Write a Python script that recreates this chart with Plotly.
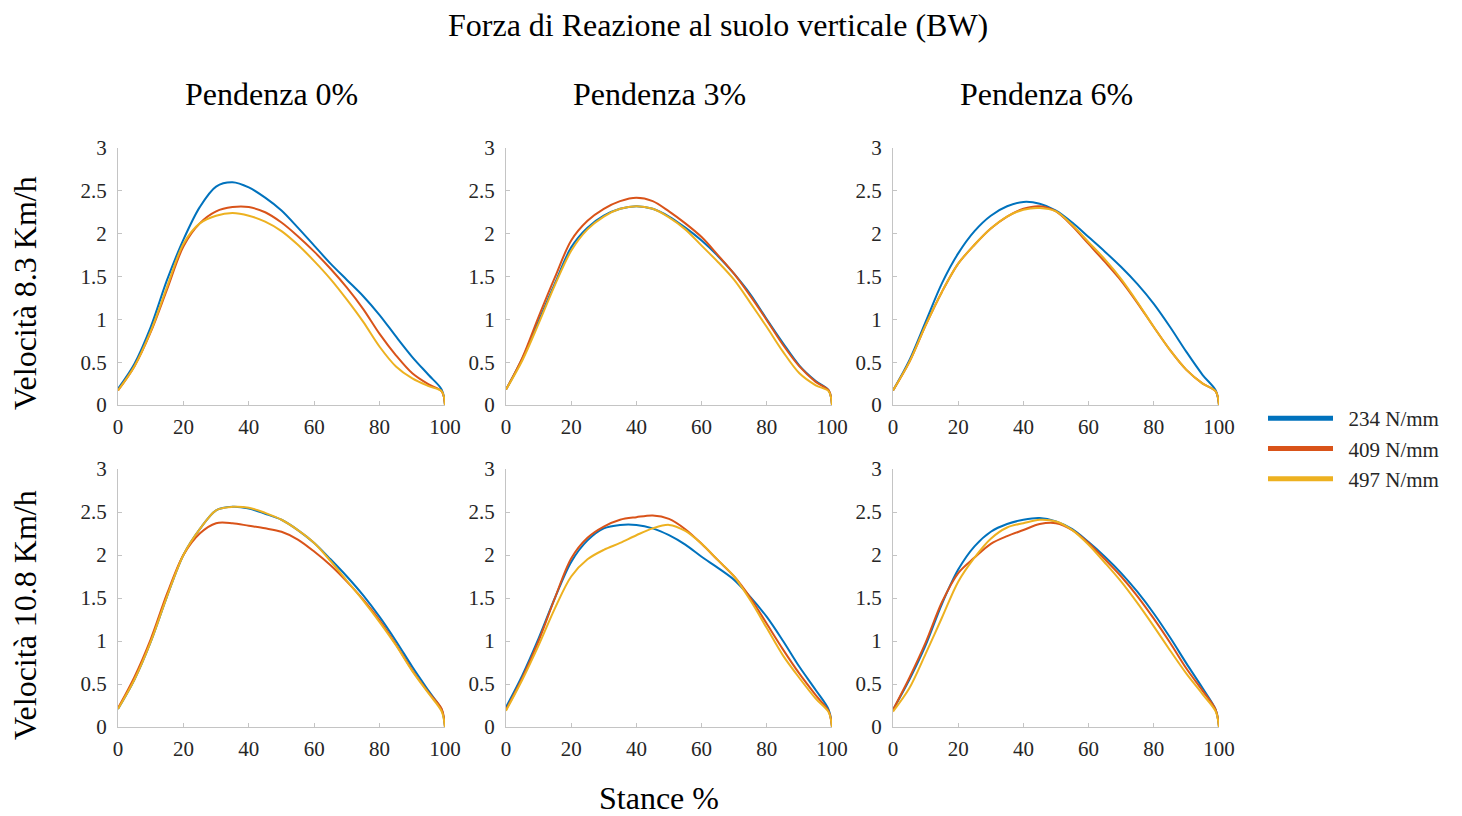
"""
Vertical ground reaction force (BW) over stance, 2x3 grid:
columns = treadmill slope, rows = running speed, one line per stiffness.
"""
import plotly.graph_objects as go

STANCE = [0, 5, 10, 15, 20, 25, 30, 35, 40, 45, 50,
          55, 60, 65, 70, 75, 80, 85, 90, 95, 99, 100]

SLOPES = ["Pendenza 0%", "Pendenza 3%", "Pendenza 6%"]
SPEEDS = ["Velocità 8.3 Km/h", "Velocità 10.8 Km/h"]
STIFFNESS = ["234 N/mm", "409 N/mm", "497 N/mm"]

# speed 8.3 km/h
V83_P0_234 = [0.19, 0.48, 0.91, 1.46, 1.93, 2.31, 2.55, 2.60, 2.54, 2.42, 2.27,
              2.07, 1.86, 1.65, 1.46, 1.27, 1.05, 0.80, 0.56, 0.35, 0.18, 0]
V83_P0_409 = [0.17, 0.45, 0.85, 1.35, 1.85, 2.12, 2.26, 2.31, 2.31, 2.25, 2.13,
              1.97, 1.79, 1.59, 1.37, 1.12, 0.83, 0.58, 0.37, 0.24, 0.16, 0]
V83_P0_497 = [0.17, 0.45, 0.86, 1.38, 1.88, 2.12, 2.21, 2.24, 2.21, 2.14, 2.03,
              1.87, 1.68, 1.47, 1.23, 0.97, 0.68, 0.45, 0.31, 0.22, 0.16, 0]

V83_P3_234 = [0.18, 0.54, 0.98, 1.42, 1.84, 2.07, 2.21, 2.29, 2.32, 2.29, 2.20,
              2.07, 1.92, 1.74, 1.53, 1.29, 1.00, 0.72, 0.46, 0.28, 0.17, 0]
V83_P3_409 = [0.18, 0.55, 1.03, 1.49, 1.92, 2.15, 2.29, 2.38, 2.42, 2.38, 2.26,
              2.12, 1.96, 1.75, 1.53, 1.27, 0.99, 0.70, 0.45, 0.27, 0.17, 0]
V83_P3_497 = [0.18, 0.52, 0.95, 1.40, 1.80, 2.05, 2.20, 2.29, 2.32, 2.29, 2.19,
              2.05, 1.86, 1.67, 1.46, 1.19, 0.91, 0.62, 0.37, 0.23, 0.16, 0]

V83_P6_234 = [0.17, 0.52, 0.97, 1.42, 1.77, 2.03, 2.21, 2.32, 2.37, 2.35, 2.27,
              2.13, 1.96, 1.79, 1.61, 1.41, 1.18, 0.91, 0.62, 0.35, 0.17, 0]
V83_P6_409 = [0.17, 0.50, 0.93, 1.32, 1.65, 1.87, 2.06, 2.20, 2.29, 2.32, 2.26,
              2.09, 1.88, 1.67, 1.45, 1.19, 0.91, 0.64, 0.41, 0.25, 0.16, 0]
V83_P6_497 = [0.17, 0.50, 0.93, 1.32, 1.65, 1.87, 2.06, 2.20, 2.28, 2.30, 2.26,
              2.10, 1.90, 1.70, 1.47, 1.20, 0.91, 0.64, 0.41, 0.25, 0.16, 0]

# speed 10.8 km/h
V108_P0_234 = [0.21, 0.55, 0.99, 1.52, 2.00, 2.30, 2.52, 2.56, 2.54, 2.48, 2.41,
               2.29, 2.14, 1.95, 1.75, 1.53, 1.28, 1.00, 0.70, 0.42, 0.20, 0]
V108_P0_409 = [0.22, 0.58, 1.02, 1.55, 2.00, 2.25, 2.37, 2.37, 2.34, 2.31, 2.27,
               2.18, 2.04, 1.88, 1.69, 1.48, 1.24, 0.96, 0.66, 0.40, 0.21, 0]
V108_P0_497 = [0.21, 0.55, 0.99, 1.52, 2.00, 2.30, 2.52, 2.56, 2.55, 2.49, 2.41,
               2.29, 2.14, 1.93, 1.70, 1.47, 1.22, 0.95, 0.65, 0.39, 0.18, 0]

V108_P3_234 = [0.23, 0.60, 1.03, 1.50, 1.92, 2.17, 2.31, 2.35, 2.35, 2.31, 2.23,
               2.12, 1.98, 1.85, 1.71, 1.51, 1.28, 1.00, 0.70, 0.43, 0.20, 0]
V108_P3_409 = [0.20, 0.57, 1.00, 1.50, 1.96, 2.20, 2.33, 2.41, 2.44, 2.46, 2.42,
               2.30, 2.13, 1.94, 1.75, 1.50, 1.20, 0.90, 0.62, 0.37, 0.18, 0]
V108_P3_497 = [0.19, 0.55, 0.95, 1.38, 1.75, 1.95, 2.06, 2.14, 2.23, 2.31, 2.35,
               2.28, 2.13, 1.94, 1.75, 1.47, 1.15, 0.83, 0.57, 0.33, 0.17, 0]

V108_P6_234 = [0.20, 0.55, 0.95, 1.43, 1.83, 2.10, 2.27, 2.36, 2.41, 2.43, 2.39,
               2.30, 2.15, 1.98, 1.79, 1.57, 1.32, 1.04, 0.74, 0.45, 0.20, 0]
V108_P6_409 = [0.20, 0.57, 0.98, 1.45, 1.79, 1.97, 2.13, 2.22, 2.29, 2.36, 2.37,
               2.29, 2.14, 1.95, 1.75, 1.52, 1.26, 0.98, 0.68, 0.42, 0.20, 0]
V108_P6_497 = [0.18, 0.45, 0.85, 1.27, 1.69, 1.97, 2.19, 2.32, 2.37, 2.41, 2.39,
               2.29, 2.12, 1.91, 1.69, 1.44, 1.17, 0.89, 0.62, 0.38, 0.18, 0]

GRID = [
    [[V83_P0_234, V83_P0_409, V83_P0_497],
     [V83_P3_234, V83_P3_409, V83_P3_497],
     [V83_P6_234, V83_P6_409, V83_P6_497]],
    [[V108_P0_234, V108_P0_409, V108_P0_497],
     [V108_P3_234, V108_P3_409, V108_P3_497],
     [V108_P6_234, V108_P6_409, V108_P6_497]],
]

COLORS = ["#0072BD", "#D95319", "#EDB120"]

# the page body adds an 8 px margin, so the figure is drawn 8 px smaller
# and every screen position is shifted back by that amount
PAGE_PAD = 8
W, H = 1462 - PAGE_PAD, 816 - PAGE_PAD
FONT = "Times New Roman, Liberation Serif, serif"
AXIS_GREY = "#c4c4c4"
TEXT = "#262626"

# panel edges in screen pixels
COL_PX = [(118, 445), (506, 832), (893, 1219)]
ROW_PX = [(148, 405), (469, 727)]


def px_x(p):
    return (p - PAGE_PAD) / W


def px_y(p):
    return 1 - (p - PAGE_PAD) / H


fig = go.Figure()
layout = {}
n = 0
for r, row in enumerate(GRID):
    for c, series in enumerate(row):
        n += 1
        xa = "x" if n == 1 else f"x{n}"
        ya = "y" if n == 1 else f"y{n}"
        for vals, color in zip(series, COLORS):
            fig.add_trace(go.Scatter(
                x=STANCE, y=vals, mode="lines",
                line=dict(color=color, width=2, shape="spline", smoothing=0.9),
                xaxis=xa, yaxis=ya, showlegend=False, hoverinfo="skip",
            ))
        x0, x1 = COL_PX[c]
        y0, y1 = ROW_PX[r]
        common = dict(
            showgrid=False, zeroline=False, showline=True, automargin=False,
            linecolor=AXIS_GREY, linewidth=1,
            ticks="inside", ticklen=4, tickcolor=AXIS_GREY,
            tickfont=dict(family=FONT, size=21, color=TEXT),
            fixedrange=True,
        )
        layout["xaxis" if n == 1 else f"xaxis{n}"] = dict(
            common, domain=[px_x(x0), px_x(x1)], anchor=ya,
            range=[0, 100], tickvals=[0, 20, 40, 60, 80, 100],
            ticklabelstandoff=3,
        )
        layout["yaxis" if n == 1 else f"yaxis{n}"] = dict(
            common, domain=[px_y(y1), px_y(y0)], anchor=xa,
            range=[0, 3], tickvals=[0, 0.5, 1, 1.5, 2, 2.5, 3],
            ticktext=["0", "0.5", "1", "1.5", "2", "2.5", "3"],
            ticklabelstandoff=6,
        )

# legend-only thick lines
for name, color in zip(STIFFNESS, COLORS):
    fig.add_trace(go.Scatter(
        x=[None], y=[None], mode="lines", name="\u00a0\u00a0" + name,
        line=dict(color=color, width=5), showlegend=True,
    ))

big = dict(family=FONT, size=32, color="black")
annotations = [
    dict(text="Forza di Reazione al suolo verticale (BW)", x=px_x(718), y=px_y(25)),
    dict(text="Stance %", x=px_x(659), y=px_y(798)),
]
for label, cx in zip(SLOPES, [271, 659, 1046]):
    annotations.append(dict(text=label, x=px_x(cx), y=px_y(94)))
for label, cy in zip(SPEEDS, [293, 615]):
    annotations.append(dict(text=label, x=px_x(25), y=px_y(cy), textangle=-90))
for a in annotations:
    a.update(xref="paper", yref="paper", showarrow=False, font=big,
             xanchor="center", yanchor="middle", borderpad=0)

fig.update_layout(
    width=W, height=H,
    margin=dict(l=0, r=0, t=0, b=0, autoexpand=False),
    paper_bgcolor="white", plot_bgcolor="white",
    font=dict(family=FONT, color=TEXT),
    annotations=annotations,
    legend=dict(
        x=px_x(1263), y=px_y(398), xanchor="left", yanchor="top",
        font=dict(family=FONT, size=21, color=TEXT),
        itemwidth=65, tracegroupgap=0, bgcolor="rgba(0,0,0,0)",
    ),
    **layout,
)

fig.write_html("out.html")
